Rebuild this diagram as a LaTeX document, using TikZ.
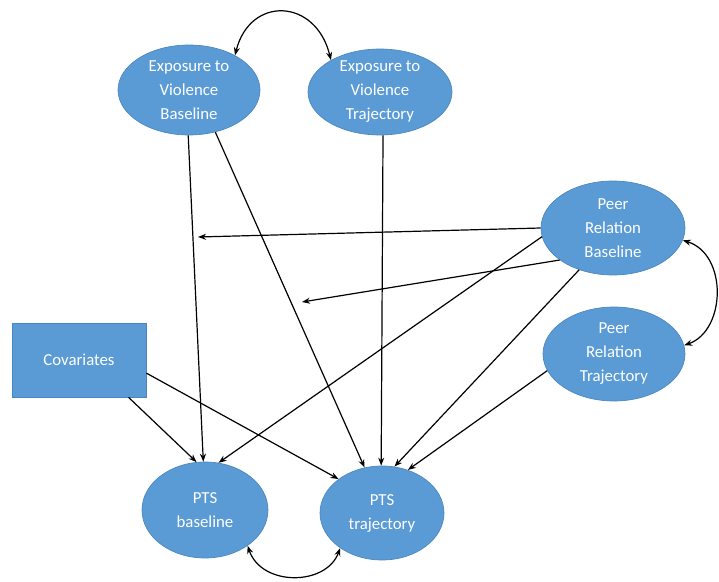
\documentclass[tikz,border=0pt]{standalone}
\usepackage{fontspec}
\setmainfont{Carlito}
\usetikzlibrary{shapes.geometric,arrows.meta}
\definecolor{nodeblue}{HTML}{5B9BD5}
\definecolor{nodeedge}{HTML}{4A86BE}
\tikzset{
  blob/.style={ellipse,fill=nodeblue,draw=nodeedge,line width=0.5pt,inner sep=0pt},
  boxnode/.style={rectangle,fill=nodeblue,draw=nodeedge,line width=0.5pt,inner sep=0pt},
  txt/.style={text=white,font=\fontsize{12.6pt}{18pt}\selectfont,align=center,inner sep=0pt},
  link/.style={line width=0.9pt,-{Stealth[length=6pt,width=4.5pt]}},
  twoway/.style={line width=0.9pt,{Stealth[length=6pt,width=4.5pt]}-{Stealth[length=6pt,width=4.5pt]}}
}
\begin{document}
\begin{tikzpicture}[x=0.75pt,y=-0.75pt]
\useasboundingbox (0,0) rectangle (719,582);
\fill[white] (0,0) rectangle (719,582);

\node[blob,minimum width=106.5pt,minimum height=67.5pt,
  label={[txt]center:{Exposure to\\Violence\\Baseline}}] (evb) at (189,90) {};
\node[blob,minimum width=108pt,minimum height=64.5pt,
  label={[txt]center:{Exposure to\\Violence\\Trajectory}}] (evt) at (380,92) {};
\node[blob,minimum width=108pt,minimum height=70.5pt,
  label={[txt]center:{Peer\\Relation\\Baseline}}] (prb) at (613,228) {};
\node[blob,minimum width=106.5pt,minimum height=70.5pt,
  label={[txt]center:{Peer\\Relation\\Trajectory}}] (prt) at (614,354) {};
\node[boxnode,minimum width=100.5pt,minimum height=55.5pt,
  label={[txt]center:{Covariates}}] (cov) at (79,360) {};
\node[blob,minimum width=94.5pt,minimum height=72pt,
  label={[txt]center:{PTS\\baseline}}] (ptsb) at (205,510) {};
\node[blob,minimum width=93pt,minimum height=70.5pt,
  label={[txt]center:{PTS\\trajectory}}] (ptst) at (382,513) {};

\coordinate (m1) at (198,237);
\coordinate (m2) at (302,302);

% straight paths
\draw[link] (evb.-91) -- (ptsb.92);
\draw[link] (evb.-58) -- (ptst.111.6);
\draw[link] (evt.-86) -- (ptst.91);
\draw[link] (prb.180) -- (m1);
\draw[link] (prb.211.9) -- (m2);
\draw[link] (prb.187) -- (ptsb.74.9);
\draw[link] (prb.231) -- (ptst.75.7);
\draw[link] (prt.194.8) -- (ptst.59);
\draw[link] (cov.-37) -- (ptsb.100.9);
\draw[link] (cov.-11.8) -- (ptst.142);

% correlations
\draw[twoway] (evb.37) .. controls +(15,-60) and +(-15,-62) .. (evt.147.5);
\draw[twoway] (prb.-10.7) .. controls +(45,14) and +(42,-15) .. (prt.7);
\draw[twoway] (ptsb.-40.7) .. controls +(14,41) and +(-14,38) .. (ptst.220);
\end{tikzpicture}
\end{document}
